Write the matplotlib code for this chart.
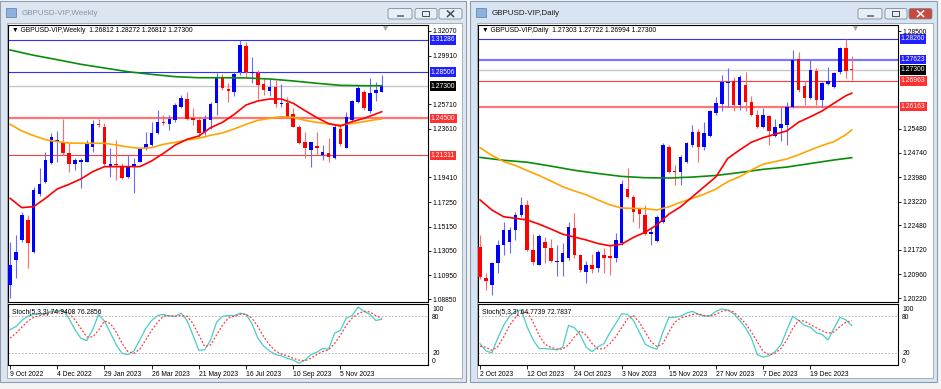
import matplotlib
matplotlib.use("Agg")
import matplotlib.pyplot as plt
from matplotlib.patches import Rectangle, FancyBboxPatch
import numpy as np

plt.rcParams['font.family'] = ['Liberation Sans', 'DejaVu Sans']

W, H = 941, 389

# ---------------- weekly data (9 Oct 2022 .. 24 Dec 2023) ----------------
w_open = [1.1009, 1.1226, 1.1399, 1.1571, 1.1298, 1.1793, 1.1903, 1.2062, 1.2249, 1.2249,
          1.2148, 1.2053, 1.2076, 1.2076, 1.2206, 1.2402, 1.2379, 1.2033, 1.2059, 1.2033,
          1.1946, 1.2041, 1.2076, 1.2191, 1.2220, 1.2321, 1.2416, 1.2399, 1.2436, 1.2552,
          1.2618, 1.2451, 1.2436, 1.2330, 1.2436, 1.2581, 1.2811, 1.2702, 1.2681, 1.2854,
          1.3079, 1.2840, 1.2840, 1.2745, 1.2687, 1.2719, 1.2572, 1.2581, 1.2485, 1.2379,
          1.2243, 1.2177, 1.2214, 1.2134, 1.2148, 1.2111, 1.2359, 1.2197, 1.2436, 1.2589,
          1.2681, 1.2514, 1.2673, 1.26812]
w_high = [1.1384, 1.1442, 1.1644, 1.1615, 1.1860, 1.2018, 1.2163, 1.2321, 1.2341, 1.2442,
          1.2235, 1.2105, 1.2105, 1.2263, 1.2436, 1.2442, 1.2408, 1.2191, 1.2263, 1.2062,
          1.2134, 1.2105, 1.2206, 1.2335, 1.2422, 1.2523, 1.2480, 1.2480, 1.2581, 1.2653,
          1.2681, 1.2543, 1.2465, 1.2480, 1.2595, 1.2840, 1.2831, 1.2754, 1.2854, 1.3128,
          1.3114, 1.2984, 1.2869, 1.2797, 1.2791, 1.2782, 1.2745, 1.2638, 1.2537, 1.2393,
          1.2335, 1.2249, 1.2335, 1.2220, 1.2284, 1.2393, 1.2393, 1.2503, 1.2609, 1.2739,
          1.2696, 1.2797, 1.2768, 1.28272]
w_low = [1.0894, 1.1067, 1.1384, 1.1153, 1.1283, 1.1782, 1.1889, 1.2053, 1.2076, 1.2134,
         1.1989, 1.2004, 1.1845, 1.2070, 1.2163, 1.2379, 1.2047, 1.1946, 1.1917, 1.1926,
         1.1932, 1.1802, 1.2070, 1.2177, 1.2214, 1.2312, 1.2393, 1.2350, 1.2422, 1.2537,
         1.2436, 1.2393, 1.2292, 1.2307, 1.2359, 1.2480, 1.2696, 1.2589, 1.2647, 1.2826,
         1.2811, 1.2754, 1.2618, 1.2653, 1.2647, 1.2552, 1.2552, 1.2451, 1.2373, 1.2226,
         1.2111, 1.2033, 1.2134, 1.2090, 1.2070, 1.2099, 1.2214, 1.2191, 1.2422, 1.2581,
         1.2523, 1.2494, 1.2601, 1.26812]
w_close = [1.1182, 1.1298, 1.1615, 1.1370, 1.1831, 1.1880, 1.2090, 1.2286, 1.2263, 1.2148,
           1.2053, 1.2090, 1.2090, 1.2235, 1.2399, 1.2393, 1.2053, 1.2053, 1.2047, 1.1932,
           1.2033, 1.2053, 1.2186, 1.2229, 1.2327, 1.2416, 1.2408, 1.2445, 1.2566, 1.2624,
           1.2445, 1.2436, 1.2321, 1.2445, 1.2575, 1.2811, 1.2710, 1.2690, 1.2831, 1.3085,
           1.2854, 1.2849, 1.2739, 1.2696, 1.2725, 1.2572, 1.2586, 1.2465, 1.2379, 1.2235,
           1.2197, 1.2243, 1.2197, 1.2163, 1.2119, 1.2379, 1.2226, 1.2465, 1.2601, 1.2716,
           1.2537, 1.2667, 1.2696, 1.27300]

# moving averages at a subset of bars
ma_bars4 = [0, 4, 8, 12, 16, 20, 24, 28, 32, 36, 40, 44, 48, 52, 56, 60, 63]
ma_bars2 = list(range(0, 64, 2)) + [63]
w_ma_green = [1.3042, 1.2996, 1.2958, 1.2918, 1.2886, 1.2854, 1.2831, 1.2811, 1.2802,
              1.2802, 1.2800, 1.2791, 1.2774, 1.2754, 1.2736, 1.2733, 1.2733]
w_ma_orange = [1.2399, 1.2341, 1.2301, 1.2266, 1.2249, 1.2237, 1.2235, 1.2235, 1.2235, 1.2220,
               1.2203, 1.2191, 1.2197, 1.2226, 1.2243, 1.2263, 1.2278, 1.2304, 1.2324, 1.2359,
               1.2399, 1.2433, 1.2451, 1.2465, 1.2459, 1.2433, 1.2416, 1.2402, 1.2393, 1.2405,
               1.2422, 1.2439, 1.2445]
w_ma_red = [1.1759, 1.1678, 1.1687, 1.1759, 1.1840, 1.1880, 1.1926, 1.1989, 1.2033, 1.2033,
            1.2033, 1.2033, 1.2082, 1.2148, 1.2220, 1.2269, 1.2298, 1.2370, 1.2416, 1.2485,
            1.2566, 1.2601, 1.2618, 1.2618, 1.2581, 1.2517, 1.2457, 1.2405, 1.2384, 1.2422,
            1.2451, 1.2488, 1.2508]

w_stoch_k = [58, 63, 73, 80, 83, 84, 84, 88, 89, 90, 76, 58, 44, 40, 58, 83, 72, 53, 33, 19,
             17, 23, 41, 60, 73, 81, 83, 80, 80, 85, 73, 49, 24, 25, 41, 70, 80, 81, 81, 85,
             83, 68, 44, 31, 23, 17, 15, 11, 8, 3, 8, 17, 21, 27, 26, 52, 57, 77, 81, 95,
             88, 83, 73, 74.9408]
w_stoch_d = [44, 52, 62, 72, 78, 81, 83, 85, 87, 88, 85, 74, 60, 46, 46, 57, 72, 68, 54, 35,
             22, 19, 26, 41, 57, 70, 80, 81, 80, 81, 80, 68, 49, 30, 33, 49, 65, 77, 80, 83,
             83, 77, 63, 46, 33, 23, 18, 15, 11, 8, 7, 11, 17, 22, 25, 35, 49, 65, 77, 84,
             88, 87, 81, 76.2856]

w_blue_levels = [1.31286, 1.28506]
w_red_levels = [1.24500, 1.21311]
w_ticks = [1.32070, 1.29910, 1.25710, 1.23610, 1.19410, 1.17250, 1.15150,
           1.13050, 1.10950, 1.08850]
w_dates = ['9 Oct 2022', '4 Dec 2022', '29 Jan 2023', '26 Mar 2023', '21 May 2023',
           '16 Jul 2023', '10 Sep 2023', '5 Nov 2023']

# ---------------- daily data (2 Oct 2023 .. 28 Dec 2023) ----------------
d_open = [1.2182, 1.2084, 1.2064, 1.2133, 1.2188, 1.2198, 1.2234, 1.2281, 1.2312, 1.2172,
          1.2126, 1.2198, 1.2177, 1.2136, 1.2136, 1.2146, 1.2241, 1.2155, 1.2105, 1.2126,
          1.2117, 1.2157, 1.2152, 1.2146, 1.2193, 1.2361, 1.2337, 1.2299, 1.2279, 1.2221,
          1.2200, 1.2260, 1.2492, 1.2415, 1.2413, 1.2444, 1.2496, 1.2537, 1.2492, 1.2526,
          1.2596, 1.2624, 1.2690, 1.2696, 1.2622, 1.2684, 1.2630, 1.2591, 1.2554, 1.2588,
          1.2526, 1.2551, 1.2560, 1.2616, 1.2764, 1.2681, 1.2642, 1.2727, 1.2637, 1.2686,
          1.2678, 1.2723, 1.2797, 1.27303]
d_high = [1.2219, 1.2100, 1.2136, 1.2203, 1.2260, 1.2244, 1.2291, 1.2335, 1.2327, 1.2221,
          1.2221, 1.2211, 1.2205, 1.2188, 1.2193, 1.2260, 1.2286, 1.2159, 1.2138, 1.2159,
          1.2172, 1.2179, 1.2183, 1.2224, 1.2389, 1.2425, 1.2343, 1.2303, 1.2310, 1.2244,
          1.2279, 1.2503, 1.2498, 1.2436, 1.2465, 1.2506, 1.2560, 1.2547, 1.2568, 1.2606,
          1.2647, 1.2715, 1.2735, 1.2709, 1.2715, 1.2723, 1.2650, 1.2606, 1.2611, 1.2591,
          1.2578, 1.2616, 1.2632, 1.2792, 1.2787, 1.2696, 1.2761, 1.2735, 1.2694, 1.2740,
          1.2725, 1.2802, 1.2826, 1.27722]
d_low = [1.2082, 1.2048, 1.2033, 1.2100, 1.2157, 1.2162, 1.2203, 1.2275, 1.2169, 1.2124,
         1.2124, 1.2131, 1.2134, 1.2090, 1.2090, 1.2141, 1.2148, 1.2105, 1.2069, 1.2100,
         1.2103, 1.2100, 1.2093, 1.2134, 1.2188, 1.2334, 1.2260, 1.2239, 1.2217, 1.2186,
         1.2198, 1.2255, 1.2410, 1.2374, 1.2372, 1.2441, 1.2492, 1.2446, 1.2482, 1.2523,
         1.2591, 1.2603, 1.2616, 1.2603, 1.2606, 1.2603, 1.2588, 1.2549, 1.2549, 1.2498,
         1.2523, 1.2510, 1.2496, 1.2613, 1.2663, 1.2622, 1.2640, 1.2622, 1.2616, 1.2684,
         1.2675, 1.2717, 1.2706, 1.26994]
d_close = [1.2087, 1.2076, 1.2133, 1.2188, 1.2234, 1.2234, 1.2281, 1.2312, 1.2172, 1.2134,
           1.2216, 1.2177, 1.2138, 1.2139, 1.2162, 1.2244, 1.2155, 1.2110, 1.2126, 1.2113,
           1.2167, 1.2148, 1.2148, 1.2203, 1.2376, 1.2337, 1.2291, 1.2283, 1.2221, 1.2227,
           1.2275, 1.2496, 1.2415, 1.2413, 1.2461, 1.2503, 1.2537, 1.2492, 1.2534, 1.2603,
           1.2627, 1.2694, 1.2694, 1.2622, 1.2709, 1.2630, 1.2591, 1.2554, 1.2591, 1.2541,
           1.2554, 1.2562, 1.2616, 1.2761, 1.2668, 1.2642, 1.2730, 1.2637, 1.2689, 1.2696,
           1.2720, 1.2797, 1.2727, 1.27300]

d_ma_green = [1.2459, 1.2450, 1.2444, 1.2432, 1.2419, 1.2409, 1.2400, 1.2396, 1.2395,
              1.2398, 1.2403, 1.2412, 1.2422, 1.2429, 1.2440, 1.2451, 1.2458]
d_ma_orange = [1.2489, 1.2465, 1.2446, 1.2434, 1.2418, 1.2403, 1.2386, 1.2368, 1.2355, 1.2343,
               1.2327, 1.2312, 1.2302, 1.2301, 1.2300, 1.2296, 1.2306, 1.2320, 1.2332, 1.2345,
               1.2361, 1.2384, 1.2399, 1.2420, 1.2438, 1.2446, 1.2454, 1.2467, 1.2482, 1.2496,
               1.2508, 1.2529, 1.2544]
d_ma_red = [1.2327, 1.2296, 1.2275, 1.2270, 1.2265, 1.2252, 1.2237, 1.2221, 1.2212, 1.2203,
            1.2192, 1.2185, 1.2190, 1.2211, 1.2227, 1.2250, 1.2283, 1.2306, 1.2337, 1.2368,
            1.2399, 1.2456, 1.2482, 1.2506, 1.2520, 1.2531, 1.2541, 1.2568, 1.2585, 1.2603,
            1.2627, 1.2650, 1.2658]

d_stoch_k = [35, 23, 20, 44, 65, 80, 88, 90, 62, 41, 27, 27, 26, 25, 29, 65, 61, 49, 29, 22,
             30, 35, 53, 68, 84, 83, 73, 54, 34, 29, 26, 54, 78, 78, 80, 85, 88, 83, 80, 81,
             88, 92, 90, 84, 73, 61, 44, 17, 13, 15, 22, 33, 57, 80, 73, 65, 62, 53, 50, 41,
             60, 78, 74, 64.7739]
d_stoch_d = [31, 29, 24, 30, 46, 65, 78, 85, 87, 70, 49, 34, 29, 26, 26, 33, 46, 56, 49, 35,
             26, 27, 35, 46, 61, 76, 81, 70, 54, 38, 30, 35, 54, 70, 77, 80, 83, 84, 81, 80,
             83, 88, 90, 87, 78, 68, 54, 38, 22, 17, 19, 27, 41, 60, 73, 72, 66, 61, 56, 52,
             54, 63, 70, 72.7837]

d_blue_levels = [1.28260, 1.27623]
d_red_levels = [1.26963, 1.26163]
d_ticks = [1.28500, 1.25480, 1.24740, 1.23980, 1.23220, 1.22480, 1.21720,
           1.20960, 1.20220]
d_dates = ['2 Oct 2023', '12 Oct 2023', '24 Oct 2023', '3 Nov 2023', '15 Nov 2023',
           '27 Nov 2023', '7 Dec 2023', '19 Dec 2023']

FS = 4.9


def box(x0, y0, x1, y1):
    return [x0 / W, 1 - y1 / H, (x1 - x0) / W, (y1 - y0) / H]


fig = plt.figure(figsize=(W / 100, H / 100), dpi=100)
fig.patch.set_facecolor('#f4f4f4')
bg = fig.add_axes([0, 0, 1, 1])
bg.set_xlim(0, W)
bg.set_ylim(H, 0)
bg.axis('off')


def window(x0, x1, title, active):
    bg.add_patch(Rectangle((x0, 0.5), x1 - x0, 381, fc='#d8e4f2' if active else '#dde6f0',
                           ec='#8b9db3', lw=0.8))
    bg.add_patch(Rectangle((x0 + 7, 23), x1 - x0 - 11, 355, fc='white', ec='#9aa6b4', lw=0.6))
    bg.add_patch(Rectangle((x0 + 6, 8), 10, 9, fc='#8db0de', ec='#5a7bb0', lw=0.5))
    bg.text(x0 + 22, 13.5, title, fontsize=5.8, va='center',
            color='#1c1c1c' if active else '#8494a6')
    for bx0, bx1, kind in [(388, 412, 'min'), (415, 437, 'max'), (439, 462, 'close')]:
        red = active and kind == 'close'
        bg.add_patch(FancyBboxPatch((x0 + bx0, 8.5), bx1 - bx0, 10.5,
                                    boxstyle='round,pad=0,rounding_size=2',
                                    fc='#c8493e' if red else '#e8eef6',
                                    ec='#7d8a99', lw=0.6))
        cx = x0 + (bx0 + bx1) / 2
        if kind == 'min':
            bg.add_patch(Rectangle((cx - 3, 14.5), 6, 1.6, fc='#f8f8f8', ec='#444c56', lw=0.5))
        elif kind == 'max':
            bg.add_patch(Rectangle((cx - 3.5, 11), 7, 5, fc='none', ec='#444c56', lw=0.7))
        else:
            c = 'white' if red else '#444c56'
            bg.plot([cx - 3, cx + 3], [11, 16.5], color=c, lw=1.1)
            bg.plot([cx - 3, cx + 3], [16.5, 11], color=c, lw=1.1)


window(0, 466, 'GBPUSD-VIP,Weekly', False)
window(470, 937, 'GBPUSD-VIP,Daily', True)


def chart(x0, name, o, h, l, c, ylim, ticks, blues, reds, greens, oranges, reds_ma,
          k, d, dates, thick_blue, thick_red):
    o, h, l, c = map(np.array, (o, h, l, c))
    bars = np.arange(len(o))
    xl = (-0.35, 70.85)

    ax = fig.add_axes(box(x0, 25, x0 + 420, 302))
    ax.set_xlim(*xl)
    ax.set_ylim(*ylim)
    ax.set_facecolor('white')

    ax.axhline(c[-1], color='#c8c8c8', lw=1.0, zorder=1)
    for i, y in enumerate(blues):
        if i == thick_blue:
            ax.axhline(y, color='#7878ff', lw=1.6, zorder=1)
        else:
            ax.axhline(y, color='#3030ff', lw=0.8, zorder=1)
    for i, y in enumerate(reds):
        if i == thick_red:
            ax.axhline(y, color='#ff7474', lw=1.6, zorder=1)
        else:
            ax.axhline(y, color='#ff3a3a', lw=0.8, zorder=1)

    up = c >= o
    body_col = np.where(up, '#0000ff', '#ff0000')
    wick_col = np.where(up, '#6a6aff', '#ff6a6a')
    ax.vlines(bars, l, h, colors=wick_col, lw=0.8, zorder=3)
    mintick = (ylim[1] - ylim[0]) / 277 * 0.9
    ax.bar(bars, np.maximum(np.abs(c - o), mintick), bottom=np.minimum(o, c), width=0.6,
           color=body_col, lw=0, zorder=4)

    ax.plot(ma_bars4, greens, color='#0a8c0a', lw=1.2, zorder=5)
    ax.plot(ma_bars2, oranges, color='#ffa500', lw=1.2, zorder=5)
    ax.plot(ma_bars2, reds_ma, color='#ff0000', lw=1.2, zorder=5)

    ax.yaxis.tick_right()
    ax.set_yticks(ticks)
    ax.set_yticklabels([f'{t:.5f}' for t in ticks])
    ax.tick_params(axis='y', length=2.2, width=0.6, pad=1.2, labelsize=FS)
    ax.set_xticks([])
    for s in ax.spines.values():
        s.set_linewidth(0.8)

    tr = ax.get_yaxis_transform()
    for y in blues:
        ax.text(1.0065, y, f'{y:.5f}', transform=tr, fontsize=FS, color='white', va='center',
                ha='left', bbox=dict(boxstyle='square,pad=0.18', fc='#1f1fff', ec='none'),
                zorder=10, clip_on=False)
    for y in reds:
        ax.text(1.0065, y, f'{y:.5f}', transform=tr, fontsize=FS, color='white', va='center',
                ha='left', bbox=dict(boxstyle='square,pad=0.18', fc='#ff3030', ec='none'),
                zorder=10, clip_on=False)
    ax.text(1.0065, c[-1], f'{c[-1]:.5f}', transform=tr, fontsize=FS, color='white',
            va='center', ha='left',
            bbox=dict(boxstyle='square,pad=0.18', fc='black', ec='none'),
            zorder=10, clip_on=False)

    ax.text(4 / 420, 1 - 6 / 277, f'\u25bc {name}  {o[-1]:.5f} {h[-1]:.5f} {l[-1]:.5f} {c[-1]:.5f}',
            transform=ax.transAxes, fontsize=FS, va='center', ha='left', zorder=11)
    ax.scatter([377 / 420], [1 - 2.5 / 277], marker='v', s=14, color='#a8a8a8',
               transform=ax.transAxes, clip_on=False, zorder=11, lw=0)

    sx = fig.add_axes(box(x0, 304, x0 + 420, 365))
    sx.set_xlim(*xl)
    sx.set_ylim(0, 100)
    sx.axhline(80, color='#a8a8a8', lw=0.6, ls=(0, (2, 2)))
    sx.axhline(20, color='#a8a8a8', lw=0.6, ls=(0, (2, 2)))
    sx.plot(bars, k, color='#48cdc8', lw=0.9, zorder=3)
    sx.plot(bars, d, color='#ff3a3a', lw=0.9, ls=(0, (1.5, 1.5)), zorder=3)
    sx.yaxis.tick_right()
    sx.set_yticks([93, 80, 20, 7])
    sx.set_yticklabels(['100', '80', '20', '0'])
    sx.tick_params(axis='y', length=0, pad=3, labelsize=FS)
    sx.set_xticks(range(0, len(o), 8))
    sx.set_xticklabels(dates, ha='left')
    sx.tick_params(axis='x', length=3, width=0.6, pad=1.5, labelsize=FS)
    for s in sx.spines.values():
        s.set_linewidth(0.8)
    sx.text(4 / 420, 0.86, f'Stoch(5,3,3) {k[-1]:.4f} {d[-1]:.4f}', transform=sx.transAxes,
            fontsize=FS, va='center', ha='left', zorder=5)


chart(8, 'GBPUSD-VIP,Weekly', w_open, w_high, w_low, w_close, (1.0862, 1.3258), w_ticks,
      w_blue_levels, w_red_levels, w_ma_green, w_ma_orange, w_ma_red,
      w_stoch_k, w_stoch_d, w_dates, -1, 0)
chart(478, 'GBPUSD-VIP,Daily', d_open, d_high, d_low, d_close, (1.20107, 1.28694), d_ticks,
      d_blue_levels, d_red_levels, d_ma_green, d_ma_orange, d_ma_red,
      d_stoch_k, d_stoch_d, d_dates, 1, 1)

fig.savefig('out.png', dpi=100, facecolor=fig.get_facecolor())
